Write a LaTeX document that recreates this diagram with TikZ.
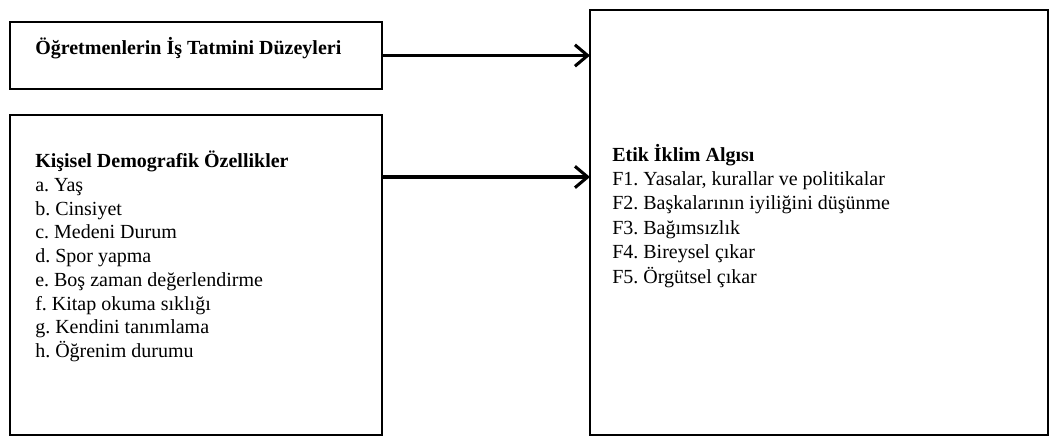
\documentclass[tikz,border=0pt]{standalone}
\usepackage{fontspec}
\setmainfont{Liberation Serif}
\usetikzlibrary{arrows.meta}
\frenchspacing
\begin{document}
\begin{tikzpicture}[x=0.75pt,y=-0.75pt]
\useasboundingbox (0,0) rectangle (1050,436);
\tikzset{
  box/.style={draw,line width=1.4pt,inner sep=0pt,outer sep=0pt},
  txt/.style={align=left,inner sep=0pt,font=\fontsize{15}{17.8}\selectfont},
  txtr/.style={align=left,inner sep=0pt,font=\fontsize{15}{18.3}\selectfont},
  arr/.style={line width=2.3pt,-{Straight Barb[length=9.5pt,width=16pt,line width=2.3pt]}}
}
\node[box,minimum width=279pt,minimum height=50.25pt] (box1) at (196,55.5) {};
\node[box,minimum width=279pt,minimum height=240pt] (box2) at (196,275) {};
\node[box,minimum width=343.5pt,minimum height=318.75pt] (rbox) at (819,222.5) {};
\node[txt,anchor=base west] (t1) at (35,54) {\textbf{Öğretmenlerin İş Tatmini Düzeyleri}};
\node[txt,anchor=base west] (t2) at (35,357.6) {\textbf{Kişisel Demografik Özellikler}\\
a. Yaş\\
b. Cinsiyet\\
c. Medeni Durum\\
d. Spor yapma\\
e. Boş zaman değerlendirme\\
f. Kitap okuma sıklığı\\
g. Kendini tanımlama\\
h. Öğrenim durumu};
\node[txtr,anchor=base west] (t3) at (612,283) {\textbf{Etik İklim Algısı}\\
F1. Yasalar, kurallar ve politikalar\\
F2. Başkalarının iyiliğini düşünme\\
F3. Bağımsızlık\\
F4. Bireysel çıkar\\
F5. Örgütsel çıkar};
\coordinate (a2) at (382,177);
\draw[arr] (box1.east) -- (box1.east -| rbox.west);
\draw[arr] (a2) -- (a2 -| rbox.west);
\end{tikzpicture}
\end{document}
